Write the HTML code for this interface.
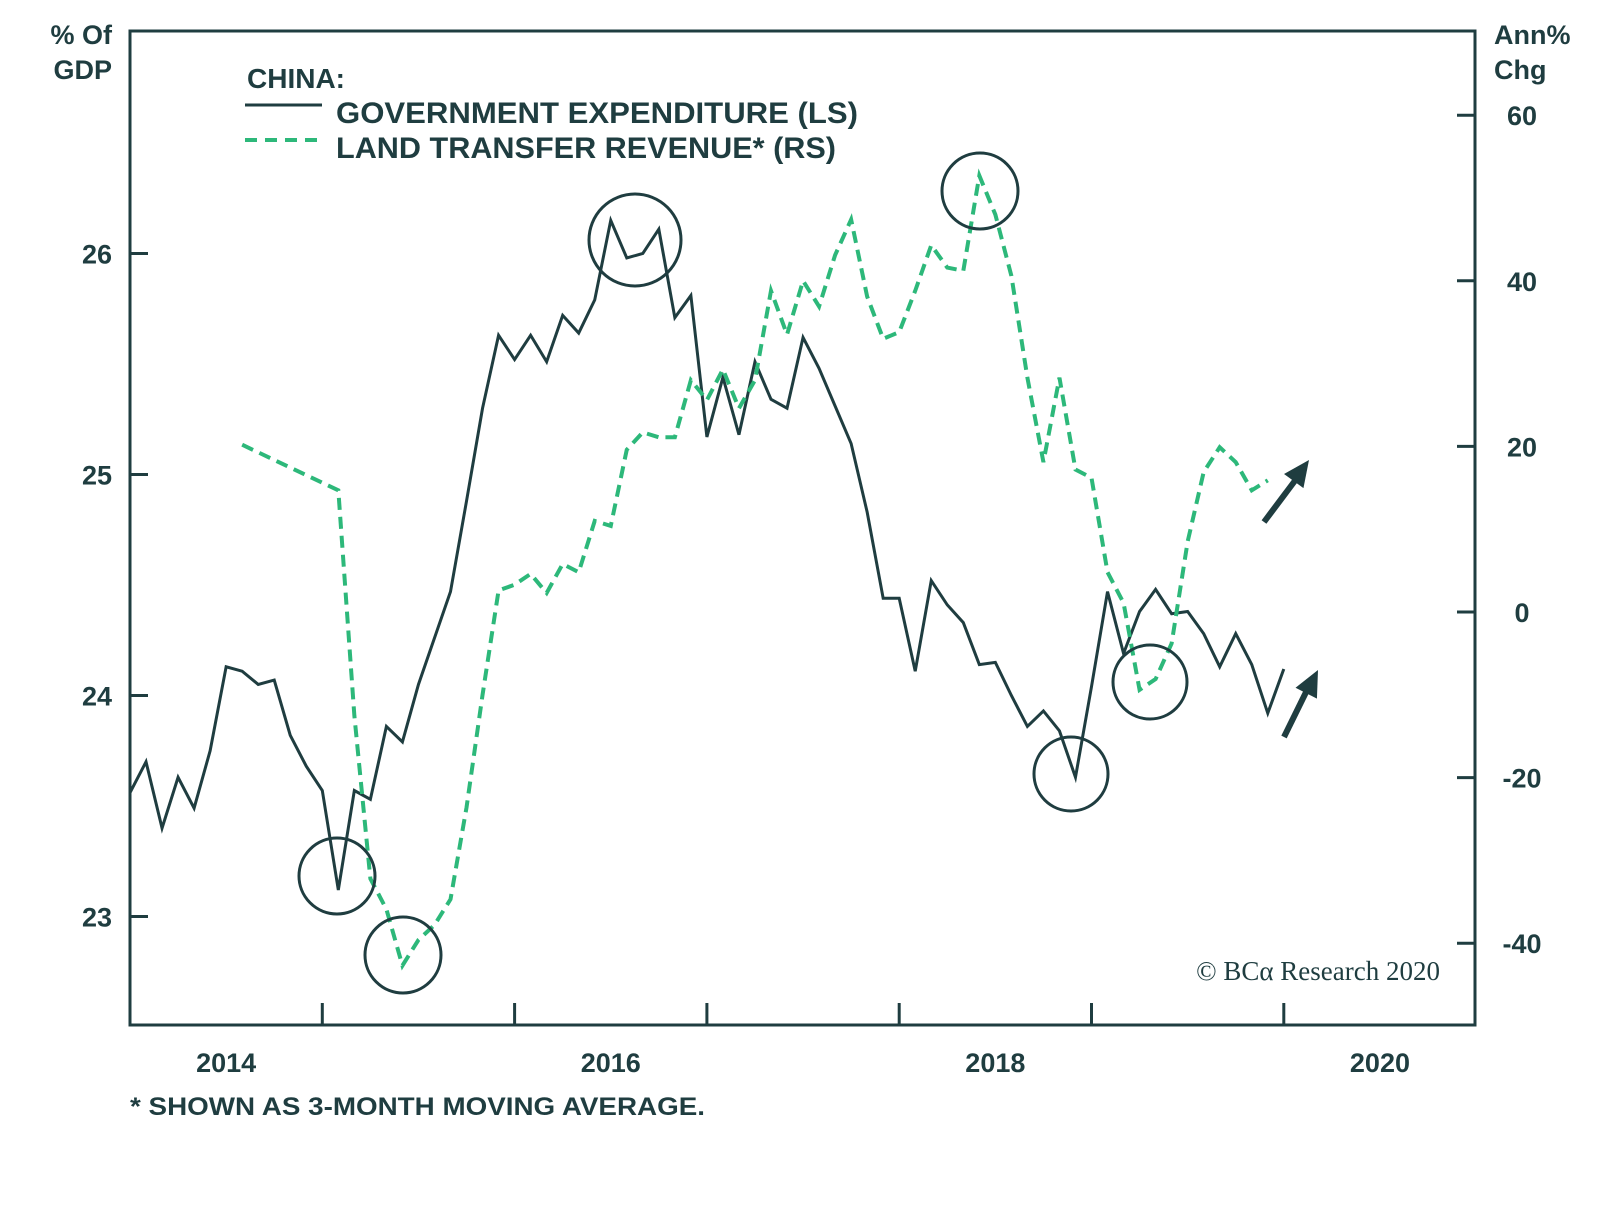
<!DOCTYPE html>
<html><head><meta charset="utf-8"><style>
body{margin:0;background:#fff;}
svg text{font-family:"Liberation Sans",sans-serif;fill:#1f3d40;font-weight:bold;}
</style></head><body>
<svg id="chart" width="1600" height="1219" viewBox="0 0 1600 1219" xmlns="http://www.w3.org/2000/svg">
<text x="112" y="44" font-size="27" text-anchor="end">% Of</text>
<text x="112" y="79" font-size="27" text-anchor="end">GDP</text>
<text x="1494" y="44" font-size="27">Ann%</text>
<text x="1494" y="79" font-size="27">Chg</text>
<text x="247" y="88" font-size="28">CHINA:</text>
<line x1="245" y1="105" x2="322" y2="105" stroke="#1f3d40" stroke-width="3"/>
<text x="336" y="123" font-size="30" textLength="522" lengthAdjust="spacingAndGlyphs">GOVERNMENT EXPENDITURE (LS)</text>
<line x1="245" y1="140" x2="322" y2="140" stroke="#2db87a" stroke-width="4" stroke-dasharray="12,8"/>
<text x="336" y="158" font-size="30" textLength="500" lengthAdjust="spacingAndGlyphs">LAND TRANSFER REVENUE* (RS)</text>
<text x="1440" y="980" font-size="27" text-anchor="end" style="font-family:'Liberation Serif',serif;font-weight:normal">© BCα Research 2020</text>
<text x="130" y="1115" font-size="25" textLength="575" lengthAdjust="spacingAndGlyphs">* SHOWN AS 3-MONTH MOVING AVERAGE.</text>
</svg>
<script>
const years=[2014,2016,2018,2020];
const leftTicks=[23,24,25,26];
const rightTicks=[-40,-20,0,20,40,60];
const govMonths=[0,1,2,3,4,5,6,7,8,9,10,11,12,13,14,15,16,17,18,19,20,21,22,23,24,25,26,27,28,29,30,31,32,33,34,35,36,37,38,39,40,41,42,43,44,45,46,47,48,49,50,51,52,53,54,55,56,57,58,59,60,61,62,63,64,65,66,67,68,69,70,71,72];
const govValues=[23.56,23.70,23.40,23.63,23.49,23.75,24.13,24.11,24.05,24.07,23.82,23.68,23.57,23.12,23.57,23.53,23.86,23.79,24.05,24.26,24.47,24.88,25.30,25.63,25.52,25.63,25.51,25.72,25.64,25.79,26.15,25.98,26.00,26.11,25.71,25.81,25.17,25.44,25.18,25.51,25.34,25.30,25.62,25.48,25.31,25.14,24.83,24.44,24.44,24.11,24.52,24.41,24.33,24.14,24.15,24.00,23.86,23.93,23.84,23.63,24.04,24.47,24.19,24.38,24.48,24.37,24.38,24.28,24.13,24.28,24.14,23.92,24.12];
const landMonths=[7,13,14,15,16,17,18,19,20,21,22,23,24,25,26,27,28,29,30,31,32,33,34,35,36,37,38,39,40,41,42,43,44,45,46,47,48,49,50,51,52,53,54,55,56,57,58,59,60,61,62,63,64,65,66,67,68,69,70,71];
const landValues=[20.2,14.7,-12.5,-32.2,-35.9,-42.7,-39.6,-37.8,-34.7,-23.6,-10.0,2.6,3.3,4.6,2.3,5.8,4.8,11.0,10.4,19.6,21.7,21.1,21.1,28.0,25.6,29.3,24.6,28.0,38.8,33.5,40.0,36.9,43.1,47.4,38.1,33.0,33.8,38.8,44.3,41.6,41.2,52.7,48.0,40.6,28.3,18.1,28.3,17.2,16.2,4.8,1.1,-9.4,-8.1,-3.8,8.5,16.9,19.9,18.1,14.7,15.9];

const NS='http://www.w3.org/2000/svg';
const svg=document.getElementById('chart');
const L=130,R=1475,T=31,B=1025;
const x=t=>L+192.3*(t-2014);
const xm=m=>x(2014+m/12);
const yL=v=>253.5+(26-v)*221;
const yR=v=>612-v*8.28;
function mk(tag,attrs){const e=document.createElementNS(NS,tag);for(const k in attrs)e.setAttribute(k,attrs[k]);svg.appendChild(e);return e;}
const C='#1f3d40',G='#2db87a';

const frame=mk('path',{d:`M${L},${T}H${R}V${B}H${L}Z`,fill:'none',stroke:C,'stroke-width':3});



leftTicks.forEach(v=>{
  const l=mk('line',{x1:L,x2:L+18,y1:yL(v),y2:yL(v),stroke:C,'stroke-width':3});
  
  
  const t=mk('text',{x:112,y:yL(v)+10,'font-size':27,'text-anchor':'end'});t.textContent=v;
  
  
});
rightTicks.forEach(v=>{
  const l=mk('line',{x1:R-18,x2:R,y1:yR(v),y2:yR(v),stroke:C,'stroke-width':3});
  
  
  const t=mk('text',{x:1522,y:yR(v)+10,'font-size':27,'text-anchor':'middle'});t.textContent=v;
  
  
});
for(let yr=2015;yr<=2020;yr++){
  const l=mk('line',{x1:x(yr),x2:x(yr),y1:B-22,y2:B,stroke:C,'stroke-width':3});
  
  
}
years.forEach(yr=>{
  const t=mk('text',{x:x(yr+0.5),y:1072,'font-size':27,'text-anchor':'middle'});t.textContent=yr;
  
  
});

const gp=mk('polyline',{points:govMonths.map((m,i)=>xm(m)+','+yL(govValues[i])).join(' '),fill:'none',stroke:C,'stroke-width':3,'stroke-linejoin':'miter'});


const lp=mk('polyline',{points:landMonths.map((m,i)=>xm(m)+','+yR(landValues[i])).join(' '),fill:'none',stroke:G,'stroke-width':4,'stroke-dasharray':'12,7'});



[[337,876,38],[403,955,38],[635,240,46],[980,191,38],[1071,774,37],[1150,682,37]].forEach(c=>{
  const e=mk('circle',{cx:c[0],cy:c[1],r:c[2],fill:'none',stroke:C,'stroke-width':3});
  
  
});
[[1264,522,1309,460],[1284,737,1318,670]].forEach(a=>{
  const l=mk('line',{x1:a[0],y1:a[1],x2:a[2]-6,y2:a[3]+10,stroke:C,'stroke-width':6});
  
  
  const ang=Math.atan2(a[3]-a[1],a[2]-a[0]);
  const p=(d,o)=>[a[2]-d*Math.cos(ang)+o*Math.sin(ang),a[3]-d*Math.sin(ang)-o*Math.cos(ang)];
  const h=mk('polygon',{points:[[a[2],a[3]],p(26,12),p(26,-12)].map(q=>q.join(',')).join(' '),fill:C});
  
  
});
</script>
</body></html>
